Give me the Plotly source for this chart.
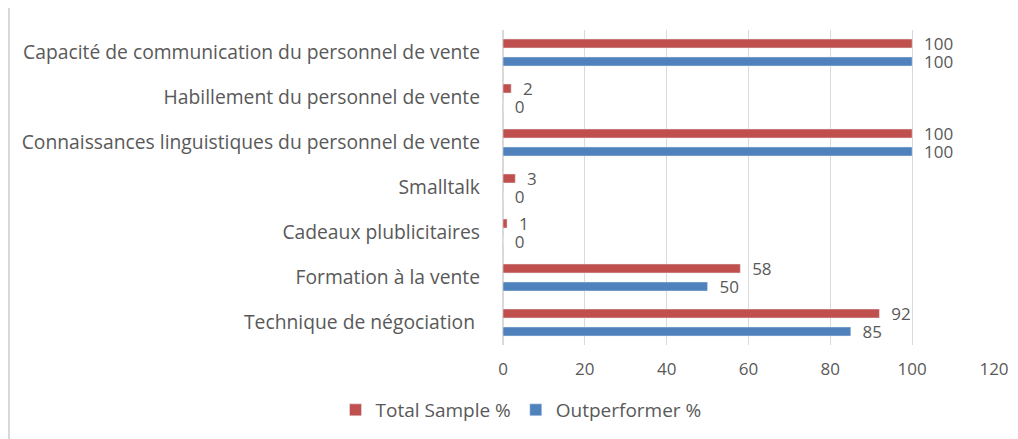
import plotly.graph_objects as go

# Chart data (top to bottom as in the reference)
categories = [
    "Capacité de communication du personnel de vente",
    "Habillement du personnel de vente",
    "Connaissances linguistiques du personnel de vente",
    "Smalltalk",
    "Cadeaux plublicitaires",
    "Formation à la vente",
    "Technique de négociation ",
]
total_sample = [100, 2, 100, 3, 1, 58, 92]
outperformer = [100, 0, 100, 0, 0, 50, 85]
x_ticks = [0, 20, 40, 60, 80, 100, 120]

RED = "#c0504d"
BLUE = "#4f81bd"
TEXT = "#595959"
FONT = "Open Sans"

# the page body has an 8px margin, so the figure is drawn 8px in from the top-left
OFF = 8
W, H = 1018 - OFF, 439 - OFF
PLOT_L, PLOT_R, PLOT_T, PLOT_B = 503, 994, 30, 345  # page pixels

fig = go.Figure()

for name, vals, color in [("Total Sample %", total_sample, RED),
                          ("Outperformer %", outperformer, BLUE)]:
    fig.add_trace(go.Bar(
        y=categories, x=vals, orientation="h",
        name=name, marker_color=color,
        text=vals, texttemplate="  %{x}", textposition="outside",
        textfont=dict(color=TEXT, size=17, family=FONT),
        constraintext="none", cliponaxis=False,
    ))

fig.update_layout(
    width=W, height=H,
    margin=dict(l=PLOT_L - OFF, r=W - (PLOT_R - OFF), t=PLOT_T - OFF, b=H - (PLOT_B - OFF)),
    paper_bgcolor="white", plot_bgcolor="white",
    font=dict(family=FONT, color=TEXT, size=19),
    barmode="group", bargap=0.2, bargroupgap=0.5,
    showlegend=True,
    legend=dict(
        orientation="h", xref="container", yref="container",
        x=(521 - OFF) / W, y=1 - (410 - OFF) / H, xanchor="center", yanchor="middle",
        font=dict(size=19, color=TEXT), traceorder="normal",
    ),
    xaxis=dict(
        range=[0, 120], tickvals=x_ticks,
        showgrid=True, gridcolor="#d9d9d9", gridwidth=1,
        zeroline=True, zerolinecolor="#d9d9d9",
        showline=False, ticks="", automargin=False,
        tickfont=dict(size=17, color=TEXT),
        ticklabelstandoff=12,
    ),
    yaxis=dict(
        autorange="reversed", showgrid=False, showline=False, ticks="",
        automargin=False,
        tickfont=dict(size=19.3, color=TEXT),
        ticklabelstandoff=22,
    ),
)

# light frame around the chart (top and left edges visible in the reference)
pw, ph = PLOT_R - PLOT_L, PLOT_B - PLOT_T
fig.add_shape(type="line", xref="paper", yref="paper",
              x0=(8 - PLOT_L) / pw, x1=(1030 - PLOT_L) / pw,
              y0=(PLOT_B - 7) / ph, y1=(PLOT_B - 7) / ph,
              line=dict(color="#d9d9d9", width=2))
fig.add_shape(type="line", xref="paper", yref="paper",
              x0=(9 - PLOT_L) / pw, x1=(9 - PLOT_L) / pw,
              y0=(PLOT_B - 7) / ph, y1=(PLOT_B - 450) / ph,
              line=dict(color="#d9d9d9", width=2))

fig.write_html("out.html")
